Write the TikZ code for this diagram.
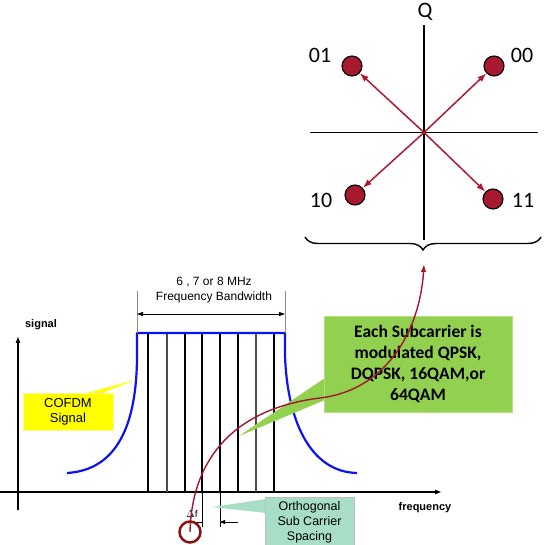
\documentclass[tikz,border=0pt]{standalone}
\usepackage{fontspec}
\setmainfont{Liberation Sans}
\newfontfamily\calfont{Carlito}
\usetikzlibrary{decorations.pathreplacing,arrows.meta}
\definecolor{dotred}{HTML}{A6192E}
\definecolor{arrred}{HTML}{B01830}
\definecolor{curvered}{HTML}{A3162C}
\definecolor{ringred}{HTML}{8B1010}
\definecolor{sigblue}{HTML}{0A14F0}
\definecolor{boxgreen}{HTML}{92D050}
\definecolor{boxteal}{HTML}{A8DEC6}
\definecolor{boxyellow}{HTML}{FFFF00}
\begin{document}
\begin{tikzpicture}[x=1pt,y=-1pt,
  cdot/.style={circle,minimum size=20pt,inner sep=0pt,fill=dotred,draw=black,line width=1.1pt},
  clabel/.style={font=\calfont\fontsize{22}{24}\selectfont,inner sep=0pt},
  carr/.style={draw=arrred,line width=1.5pt,-{Latex[length=9pt,width=6.5pt]}},
  axis/.style={draw=black,line width=1.3pt},
  sub/.style={draw=black,line width=1.1pt},
  tri/.style={-{Triangle[length=6pt,width=4.5pt]}},
  callout/.style={inner sep=0pt,align=center}
]
\useasboundingbox (0,0) rectangle (550,545);

% ---------- constellation ----------
\coordinate (ctr) at (424,132.5);
\coordinate (qtop) at (424,25);
\coordinate (qbot) at (424,240);
\coordinate (ileft) at (310,132.5);
\coordinate (iright) at (538,132.5);
\draw[axis] (qtop) -- (qbot);
\draw[axis] (ileft) -- (iright);
\node[clabel] (qlab) at (425,12) {Q};

\node[cdot] (d01) at (352,66) {};
\node[cdot] (d00) at (494,66) {};
\node[cdot] (d10) at (355,195) {};
\node[cdot] (d11) at (493,199) {};
\node[clabel] (l01) at (320,55) {01};
\node[clabel] (l00) at (522,55) {00};
\node[clabel] (l10) at (321,200) {10};
\node[clabel] (l11) at (523,200) {11};
\draw[carr] (ctr) -- (d01);
\draw[carr] (ctr) -- (d00);
\draw[carr] (ctr) -- (d10);
\draw[carr] (ctr) -- (d11);

% brace
\coordinate (bl) at (305,237);
\coordinate (br) at (541,237);
\coordinate (btip) at (424,264);
\draw[line width=1.4pt,decorate,decoration={brace,amplitude=13pt,mirror}] (bl) -- (br);

% ---------- spectrum ----------
\coordinate (xa0) at (0,492);
\coordinate (xa1) at (441,492);
\coordinate (ya0) at (18,510);
\coordinate (ya1) at (18,337);
\draw[axis,line width=1.2pt,tri] (xa0) -- (xa1);
\draw[axis,line width=1.2pt,tri] (ya0) -- (ya1);
\node[font=\bfseries\fontsize{11}{13}\selectfont] (siglab) at (41,325) {signal};
\node[font=\bfseries\fontsize{11}{13}\selectfont] (freqlab) at (425,508) {frequency};

% subcarriers
\foreach \x/\c in {148/black,167/black!70,185/black,202/black,220/black,238/black,256/black!70,274/black}
  \draw[sub,draw=\c] (\x,333) -- (\x,492);

% blue spectrum
\draw[sigblue,line width=2.2pt,line join=round]
  (67,473) .. controls (117,470) and (137,425) .. (137,355) -- (137,333) -- (285,333) -- (285,355)
  .. controls (287,420) and (310,472) .. (357,473);

% bandwidth dimension
\coordinate (bw0) at (137,314);
\coordinate (bw1) at (285,314);
\draw[black!45,line width=0.8pt] (137,291) -- (137,333);
\draw[black!45,line width=0.8pt] (285,291) -- (285,333);
\draw[line width=0.8pt,{Triangle[length=6pt,width=4pt]}-{Triangle[length=6pt,width=4pt]}] (bw0) -- (bw1);
\node[align=center,font=\fontsize{12}{14.5}\selectfont,inner sep=0pt] (bwlab) at (214,290) {6 , 7 or 8 MHz\\Frequency Bandwidth};

% delta f
\draw[line width=0.8pt] (202,492) -- (202,527);
\draw[line width=0.8pt] (220,492) -- (220,527);
\coordinate (dfa) at (238,522);
\coordinate (dfb) at (220,522);
\coordinate (dfc) at (195,522);
\coordinate (dfd) at (202,522);
\draw[line width=0.8pt,-{Triangle[length=5pt,width=4pt]}] (dfa) -- (dfb);
\draw[line width=0.8pt] (dfc) -- (dfd);
\node[font=\fontsize{10}{12}\selectfont,inner sep=0pt] (dflab) at (192,514) {$\Delta$f};
\node[circle,draw=ringred,line width=2.5pt,minimum size=21pt,inner sep=0pt] (ring) at (190,532) {};

% ---------- callouts ----------
% yellow
\fill[boxyellow] (83,394) -- (100,394) -- (135,380) -- cycle;
\node[callout,fill=boxyellow,draw=yellow!45,minimum width=90pt,minimum height=37pt,font=\fontsize{13}{15}\selectfont] (cofdm) at (68,411.5) {COFDM\\Signal};
% green
\fill[boxgreen] (325,378) -- (325,400) -- (239,436) -- cycle;
\node[callout,fill=boxgreen,draw=boxgreen!70!white,minimum width=188pt,minimum height=96pt,font=\calfont\bfseries\fontsize{17.5}{20.8}\selectfont] (green) at (418,364) {Each Subcarrier is\\modulated QPSK,\\DQPSK, 16QAM,or\\64QAM};
% teal
\fill[boxteal] (266,499) -- (266,513) -- (212,507) -- cycle;
\node[callout,fill=boxteal,draw=black!25,minimum width=89pt,minimum height=54pt,anchor=north west] (teal) at (265,497) {};
\node[align=center,font=\fontsize{12.5}{15}\selectfont,inner sep=0pt] (tealtxt) at (309.5,522) {Orthogonal\\Sub Carrier\\Spacing};

% ---------- red connector ----------
\draw[curvered,line width=1.4pt,-{Latex[length=8pt,width=5.5pt]}]
  (ring.center) .. controls (192,455) and (238,408) .. (320,398)
  .. controls (387,390) and (420,330) .. (btip);
\end{tikzpicture}
\end{document}
